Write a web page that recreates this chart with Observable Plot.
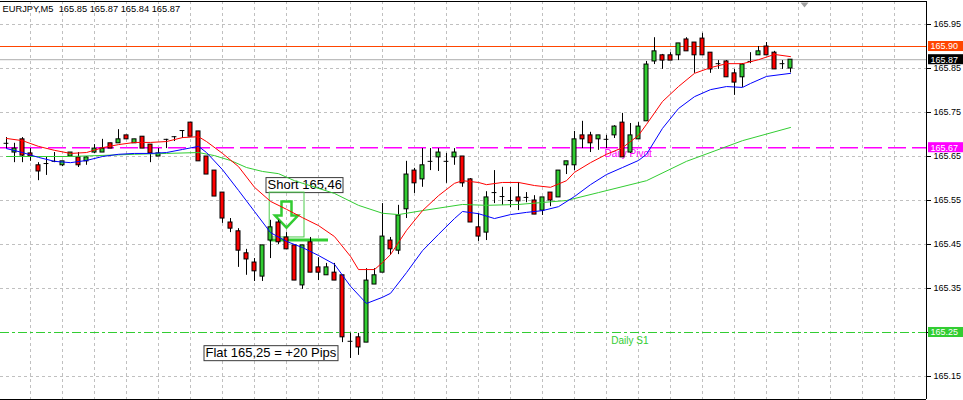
<!DOCTYPE html>
<html><head><meta charset="utf-8">
<script src="https://cdn.jsdelivr.net/npm/d3@7"></script>
<script src="https://cdn.jsdelivr.net/npm/@observablehq/plot@0.6"></script>
<style>body{margin:0;background:#fff;overflow:hidden}</style>
</head><body><div id="chart"></div>
<script>
// ---------- data ----------
const symbolName = "EURJPY", timeframe = "M5";

const open = [165.680,165.659,165.689,165.657,165.630,165.634,165.639,165.630,165.650,165.648,
165.639,165.659,165.659,165.680,165.680,165.698,165.680,165.695,165.677,165.650,
165.689,165.695,165.709,165.727,165.707,165.650,165.618,165.568,165.500,165.480,
165.430,165.409,165.377,165.459,165.500,165.466,165.448,165.357,165.455,165.398,
165.380,165.386,165.380,165.230,165.239,165.227,165.359,165.386,165.459,165.436,
165.530,165.618,165.598,165.639,165.648,165.639,165.648,165.650,165.598,165.489,
165.477,165.568,165.559,165.550,165.557,165.557,165.550,165.527,165.568,165.557,
165.630,165.630,165.698,165.698,165.689,165.689,165.698,165.727,165.659,165.689,
165.730,165.866,165.880,165.880,165.880,165.916,165.909,165.918,165.886,165.861,
165.866,165.839,165.830,165.866,165.880,165.900,165.886,165.861,165.850];

const high = [165.693,165.680,165.693,165.668,165.636,165.648,165.659,165.639,165.659,165.659,
165.650,165.677,165.689,165.680,165.711,165.698,165.689,165.695,165.677,165.668,
165.689,165.695,165.709,165.727,165.707,165.650,165.618,165.568,165.509,165.486,
165.439,165.418,165.448,165.505,165.505,165.477,165.448,165.448,165.466,165.420,
165.407,165.407,165.380,165.248,165.248,165.395,165.395,165.543,165.466,165.539,
165.639,165.623,165.668,165.668,165.668,165.657,165.668,165.650,165.600,165.520,
165.570,165.618,165.580,165.580,165.591,165.568,165.561,165.557,165.568,165.618,
165.639,165.707,165.730,165.705,165.698,165.698,165.720,165.748,165.725,165.727,
165.866,165.920,165.882,165.886,165.907,165.920,165.909,165.930,165.886,165.868,
165.868,165.848,165.861,165.886,165.900,165.909,165.889,165.868,165.870];

const low = [165.668,165.636,165.636,165.639,165.595,165.607,165.636,165.627,165.650,165.625,
165.630,165.657,165.659,165.668,165.680,165.689,165.680,165.668,165.636,165.650,
165.668,165.684,165.691,165.695,165.639,165.609,165.559,165.498,165.477,165.398,
165.380,165.366,165.366,165.418,165.450,165.439,165.368,165.348,165.386,165.368,
165.380,165.368,165.227,165.191,165.198,165.227,165.359,165.386,165.425,165.427,
165.509,165.566,165.580,165.618,165.616,165.589,165.630,165.580,165.500,165.457,
165.459,165.543,165.539,165.534,165.527,165.545,165.518,165.516,165.536,165.557,
165.609,165.618,165.668,165.659,165.664,165.668,165.691,165.648,165.657,165.689,
165.730,165.859,165.848,165.868,165.868,165.889,165.839,165.880,165.839,165.848,
165.830,165.789,165.807,165.861,165.880,165.880,165.848,165.848,165.840];

const close = [165.680,165.668,165.652,165.650,165.616,165.634,165.639,165.639,165.659,165.630,
165.648,165.668,165.668,165.668,165.689,165.689,165.689,165.668,165.657,165.657,
165.689,165.695,165.709,165.695,165.639,165.609,165.559,165.509,165.486,165.436,
165.416,165.389,165.448,165.489,165.455,165.439,165.368,165.448,165.386,165.386,
165.398,165.368,165.239,165.230,165.216,165.368,165.380,165.468,165.439,165.516,
165.609,165.589,165.630,165.639,165.659,165.639,165.659,165.589,165.500,165.468,
165.557,165.568,165.559,165.550,165.548,165.557,165.518,165.557,165.550,165.618,
165.639,165.689,165.689,165.680,165.698,165.689,165.718,165.648,165.698,165.718,
165.859,165.889,165.868,165.868,165.907,165.889,165.880,165.880,165.848,165.861,
165.830,165.818,165.859,165.866,165.889,165.880,165.848,165.861,165.870];

// moving averages (bar index, value)
const fastMAIndex = [0,2,4,6,8,10,12,14,16,18,20,22,24,25,27,29,31,33,35,37,39,41,43,44,46,47,48,50,52,54,56,57,59,60,62,64,66,68,70,71,73,75,77,79,80,82,84,86,88,90,92,94,96,98];
const fastMA = [165.691,165.686,165.673,165.664,165.657,165.659,165.670,165.677,165.682,165.682,165.684,165.693,165.695,165.684,165.657,165.627,165.580,165.548,165.530,165.511,165.493,165.468,165.423,165.393,165.393,165.409,165.427,165.482,165.527,165.561,165.589,165.595,165.591,165.586,165.591,165.591,165.584,165.580,165.595,165.614,165.636,165.655,165.670,165.698,165.723,165.775,165.809,165.839,165.852,165.861,165.861,165.870,165.882,165.877];

const midMAIndex = [0,2,4,6,8,10,12,14,16,18,20,22,24,25,27,29,31,33,35,37,39,41,43,45,47,48,50,52,54,56,57,59,61,63,65,67,69,71,73,75,77,79,80,82,84,86,88,90,92,93,95,98];
const midMA = [165.668,165.659,165.648,165.639,165.636,165.641,165.650,165.655,165.657,165.657,165.659,165.666,165.673,165.659,165.620,165.573,165.525,165.477,165.457,165.443,165.425,165.405,165.355,165.316,165.330,165.339,165.386,165.436,165.473,165.509,165.525,165.520,165.509,165.518,165.523,165.527,165.536,165.559,165.586,165.609,165.625,165.641,165.655,165.714,165.759,165.786,165.802,165.809,165.807,165.816,165.832,165.839];

const slowMAIndex = [0,8,16,20,24,26,28,30,32,34,36,41,44,47,49,52,57,60,64,70,74,80,85,92,98];
const slowMA = [165.650,165.650,165.655,165.657,165.659,165.652,165.641,165.625,165.616,165.611,165.595,165.566,165.539,165.521,165.518,165.527,165.541,165.539,165.541,165.550,165.568,165.595,165.639,165.686,165.716];

const priceTicks = [165.15,165.25,165.35,165.45,165.55,165.65,165.75,165.85,165.95];
const timeGridBars = [3,7,11,15,19,23,27,31,35,39,43,47,51,55,59,63,67,71,75,79,83,87,91,95,99,103,107,111];

const levelPrices = [165.90, 165.87, 165.67, 165.25];
const levelNames  = ["Resistance", "Bid", "Daily Pivot", "Daily S1"];
const pivotLabelBar = 74.75, s1LabelBar = 75.6;

const shortEntry = 165.46;
const shortLineBars = [32.9, 40.25];
const shortZoneBars = [32.9, 37.25];
const shortZonePrices = [165.466, 165.568];
const shortArrow = {bar: 35, price: 165.518};
const shortLabel = {text: "Short 165,46", bar: 32.625, price: 165.585};
const flatLabel  = {text: "Flat 165,25 = +20 Pips", bar: 24.875, price: 165.203};
const shiftMarkerBar = 99.75;

// ---------- build ----------
const lastBar = 115;              // right edge of the price area in bars
const yDomain = [165.0977, 166.0023];
const candles = open.map((o, i) => ({i, o, h: high[i], l: low[i], c: close[i]}));
const bodies = candles.filter(d => d.o !== d.c);
const dojis = candles.filter(d => d.o === d.c);
const series = (idx, vals) => idx.map((i, k) => ({i, v: vals[k]}));
const fmt = v => v.toFixed(2);
// an axis label hidden by a level box of the same price is not drawn
const axisFmt = v => levelPrices.some(p => Math.abs(p - v) < 1e-9) ? "" : fmt(v);
const header = `${symbolName},${timeframe}\u00a0 ${fmt(open.at(-1))} ${fmt(high.at(-1))} ${fmt(low.at(-1))} ${fmt(close.at(-1))}`;
const levelColors = ["#ff4500", "#000000", "#ff00ff", "#32cd32"];
const levelBoxes = levelPrices.map((p, k) => ({p, color: levelColors[k]}));

const arrowSymbol = {draw(ctx) {
  ctx.moveTo(-5,-13); ctx.lineTo(5,-13); ctx.lineTo(5,1); ctx.lineTo(11.5,1);
  ctx.lineTo(0,13); ctx.lineTo(-11.5,1); ctx.lineTo(-5,1); ctx.closePath();
}};
const shiftSymbol = {draw(ctx) {
  ctx.moveTo(-4,-2.5); ctx.lineTo(4,-2.5); ctx.lineTo(0,2.5); ctx.closePath();
}};
const grid = {stroke: "#c0c0c0", strokeOpacity: 1, strokeDasharray: "3,3"};

const svg = Plot.plot({
  width: 963, height: 400,
  marginLeft: 0, marginRight: 37, marginTop: 1, marginBottom: 1,
  x: {domain: [-0.75, lastBar], axis: null},
  y: {domain: yDomain},
  style: {background: "white", fontFamily: "Liberation Sans", fontSize: "9px", color: "black"},
  marks: [
    Plot.gridY(priceTicks, grid),
    Plot.gridX(timeGridBars, grid),
    Plot.ruleY([levelPrices[0]], {stroke: "#ff4500", strokeWidth: 1.2}),
    Plot.ruleY([levelPrices[1]], {stroke: "#bdbdbd", strokeWidth: 1.2}),
    Plot.ruleY([levelPrices[2]], {stroke: "#ff00ff", strokeWidth: 1.5, strokeDasharray: "18,6"}),
    Plot.ruleY([levelPrices[3]], {stroke: "#32cd32", strokeWidth: 1.2, strokeDasharray: "9,3,3,3"}),
    Plot.text([shortLabel, flatLabel], {x: "bar", y: "price", text: "text", textAnchor: "start", lineAnchor: "middle", fontSize: 13, fill: "black"}),
    Plot.text([levelNames[2]], {x: () => pivotLabelBar, y: () => levelPrices[2], text: d => d, textAnchor: "start", lineAnchor: "top", dy: 2, fill: "#ff00ff", fontSize: 10}),
    Plot.text([levelNames[3]], {x: () => s1LabelBar, y: () => levelPrices[3], text: d => d, textAnchor: "start", lineAnchor: "top", dy: 4, fill: "#32cd32", fontSize: 10}),
    Plot.rect([0], {x1: () => shortZoneBars[0], x2: () => shortZoneBars[1], y1: () => shortZonePrices[0], y2: () => shortZonePrices[1], fill: "none", stroke: "#4ccc4c"}),
    Plot.ruleY([shortEntry], {x1: shortLineBars[0], x2: shortLineBars[1], stroke: "#32cd32", strokeWidth: 3}),
    Plot.dot([shortArrow], {x: "bar", y: "price", symbol: arrowSymbol, r: 10, fill: "none", stroke: "#33cc33", strokeWidth: 2.5}),
    Plot.ruleX(candles, {x: "i", y1: "l", y2: "h", stroke: "black"}),
    Plot.rect(bodies, {x1: d => d.i - 0.25, x2: d => d.i + 0.25, y1: "o", y2: "c", fill: d => d.c > d.o ? "#32cd32" : "#ff0000", stroke: "black"}),
    Plot.ruleY(dojis, {y: "c", x1: d => d.i - 0.3, x2: d => d.i + 0.3, stroke: "black"}),
    Plot.line(series(slowMAIndex, slowMA), {x: "i", y: "v", stroke: "#32cd32", strokeWidth: 1}),
    Plot.line(series(midMAIndex, midMA), {x: "i", y: "v", stroke: "#0000ff", strokeWidth: 1}),
    Plot.line(series(fastMAIndex, fastMA), {x: "i", y: "v", stroke: "#ff0000", strokeWidth: 1}),
    Plot.axisY({ticks: priceTicks, anchor: "right", tickSize: 4, tickPadding: 3, tickFormat: axisFmt, fontSize: 9, label: null}),
    Plot.rect(levelBoxes, {x1: () => lastBar + 0.25, x2: () => lastBar + 4.8, y1: d => d.p - 0.0114, y2: d => d.p + 0.0114, fill: "color"}),
    Plot.text(levelBoxes, {y: "p", frameAnchor: "right", dx: 4, text: d => fmt(d.p), textAnchor: "start", fill: "white", fontSize: 9}),
    Plot.ruleX([lastBar], {stroke: "black"}),
    Plot.ruleY([yDomain[0]], {stroke: "black"}),
    Plot.ruleY([yDomain[1]], {stroke: "black"}),
    Plot.text([header], {text: d => d, frameAnchor: "top-left", dx: 2, dy: 4, textAnchor: "start", lineAnchor: "top", fontSize: 9.3, fill: "black"}),
    Plot.dot([shiftMarkerBar], {x: d => d, frameAnchor: "top", dy: 3.5, symbol: shiftSymbol, r: 4, fill: "#a0a0a0", stroke: "none"})
  ]
});
document.getElementById("chart").appendChild(svg);

// white boxes behind the annotation labels
const boxed = new Set([shortLabel.text, flatLabel.text]);
svg.querySelectorAll("text").forEach(t => {
  if (!boxed.has(t.textContent)) return;
  const b = t.getBBox();
  const r = document.createElementNS("http://www.w3.org/2000/svg", "rect");
  r.setAttribute("x", Math.round(b.x - 2) + 0.5);
  r.setAttribute("y", Math.round(b.y) + 0.5);
  r.setAttribute("width", Math.round(b.width + 3));
  r.setAttribute("height", Math.round(b.height));
  r.setAttribute("fill", "white");
  r.setAttribute("stroke", "#3a3a3a");
  const tr = t.getAttribute("transform");
  if (tr) r.setAttribute("transform", tr);
  t.parentNode.insertBefore(r, t);
});
</script>
</body></html>
